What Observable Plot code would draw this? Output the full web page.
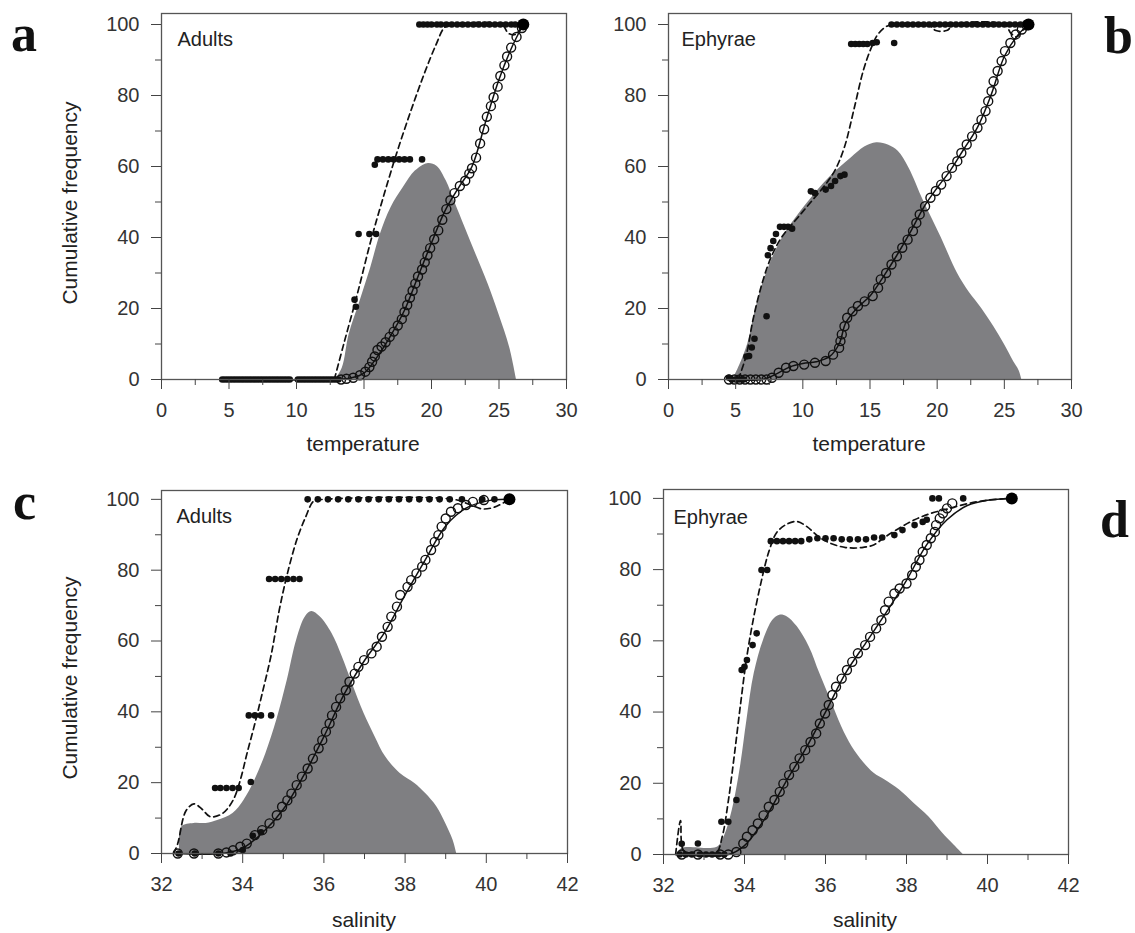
<!DOCTYPE html>
<html>
<head>
<meta charset="utf-8">
<script src="https://cdn.jsdelivr.net/npm/d3@7"></script>
<script src="https://cdn.jsdelivr.net/npm/@observablehq/plot@0.6"></script>
<style>
  html, body { margin: 0; padding: 0; background: #fff; }
  #root { position: relative; width: 1135px; height: 933px; overflow: hidden; background: #fff; }
  .panel { position: absolute; }
  .letter { position: absolute; font-family: "Liberation Serif", "Times New Roman", serif; font-weight: bold; font-size: 52px; line-height: 1; color: #111; }
  .title { position: absolute; font-family: "Liberation Sans", Arial, sans-serif; font-size: 21px; line-height: 1; color: #222; white-space: nowrap; }
</style>
</head>
<body>
<div id="root"></div>
<script>
// ---------- tick values ----------
const yTicks = [0, 20, 40, 60, 80, 100];
const yMinor = [10, 30, 50, 70, 90];
const tempTicks = [0, 5, 10, 15, 20, 25, 30];
const tempMinor = [2.5, 7.5, 12.5, 17.5, 22.5, 27.5];
const salTicks = [32, 34, 36, 38, 40, 42];
const salMinor = [33, 35, 37, 39, 41];

// ---------- panel a: Adults vs temperature ----------
const aDensity = [[12.9,0],[13.4,3.3],[13.9,12.7],[14.7,22],[15.5,31.5],[16.2,40.8],[17.0,48.4],[17.9,54],[18.8,58.7],[19.7,60.8],[20.4,60.1],[21.1,55.9],[21.7,50.2],[22.5,42.7],[23.3,35.2],[24.2,26.8],[25.0,18.3],[25.8,8.9],[26.3,0]];
const aEnv = [[13.3,0],[13.7,0.2],[14.2,0.5],[14.7,1.2],[15.1,2.2],[15.4,3.5],[15.6,5],[15.8,6.5],[16.0,8.3],[16.3,9.3],[16.6,10.5],[16.9,12],[17.2,13.5],[17.5,15.2],[17.8,17],[18.0,19],[18.2,21],[18.4,23],[18.6,25],[18.8,27],[19.0,29],[19.3,31],[19.5,33],[19.7,35],[19.9,37],[20.2,39.5],[20.5,42],[20.8,45],[21.1,48],[21.4,50.5],[21.7,52.5],[22.1,54.5],[22.5,56],[22.8,58],[23.0,59.5],[23.3,62.5],[23.6,66.5],[23.9,70.5],[24.1,74],[24.4,77],[24.6,79.5],[24.9,82.5],[25.1,85.5],[25.4,88.5],[25.6,91],[25.9,93.5],[26.3,96.5],[26.7,99]];
const aFit = [[4.5,0],[13,0],[14,0.4],[15,1.8],[16,6.5],[17,12.5],[18,19.5],[19,29],[20,38.5],[21,47.5],[22,54],[23,60],[24,72.5],[25,84.5],[26,94],[26.8,100]];
const aCatch = [[4.5,0],[4.7,0],[4.9,0],[5.1,0],[5.3,0],[5.5,0],[5.7,0],[5.9,0],[6.1,0],[6.3,0],[6.5,0],[6.7,0],[6.9,0],[7.1,0],[7.3,0],[7.5,0],[7.7,0],[7.9,0],[8.1,0],[8.3,0],[8.5,0],[8.7,0],[8.9,0],[9.1,0],[9.3,0],[9.5,0],[10.1,0],[10.3,0],[10.5,0],[10.7,0],[10.9,0],[11.1,0],[11.3,0],[11.5,0],[11.7,0],[11.9,0],[12.1,0],[12.3,0],[12.5,0],[12.7,0],[12.9,0],[13.1,0],[14.3,22.5],[14.4,20.5],[14.6,41],[15.4,41],[15.9,41],[15.8,60.5],[16.0,62],[16.4,62],[16.8,62],[17.2,62],[17.6,62],[18.0,62],[18.4,62],[19.3,62],[19.1,100],[19.4,100],[19.7,100],[20.0,100],[20.4,100],[20.7,100],[21.1,100],[21.5,100],[21.9,100],[22.3,100],[22.7,100],[23.1,100],[23.5,100],[23.9,100],[24.3,100],[24.7,100],[25.1,100],[25.5,100],[25.9,100],[26.2,100]];
const aEnd = [[26.8,100]];
const aDash = [[12.8,0],[13.5,10],[14.5,24],[15.5,39],[16.4,51],[17.4,63.5],[18.5,76],[19.5,86.5],[20.3,94],[21.0,99.3],[21.6,100],[25.2,100],[25.7,97.5],[26.2,97.2],[26.8,100]];

// ---------- panel b: Ephyrae vs temperature ----------
const bDensity = [[4.8,0],[5.3,4],[5.9,10],[6.5,20],[7.3,30],[8.5,40],[10.4,50],[12.0,57],[13.6,62.4],[14.6,65.5],[15.5,66.7],[16.4,66],[17.1,64.3],[17.9,59.6],[19.0,50.2],[20.3,40],[21.5,30],[22.4,24.5],[23.3,20.1],[24.2,15],[25.0,9.9],[25.7,5],[26.1,2.5],[26.3,0]];
const bEnv = [[4.5,0],[4.9,0],[5.3,0],[5.7,0],[6.1,0],[6.5,0],[6.9,0],[7.3,0],[7.7,0.5],[8.2,1.9],[8.75,3.3],[9.3,3.8],[10.1,4.2],[10.9,4.7],[11.7,5.2],[12.25,7],[12.7,8.9],[12.8,10.8],[12.9,12.7],[13.1,15],[13.3,17.4],[13.7,19.2],[14.1,20.7],[14.6,22],[15.2,23.5],[15.6,25.8],[15.8,28.2],[16.2,30],[16.6,32.4],[17.0,34.7],[17.4,37.1],[17.8,39.4],[18.2,41.8],[18.45,44.1],[18.7,46.5],[19.1,48.8],[19.5,51.2],[19.9,53.1],[20.3,54.9],[20.7,57.3],[21.1,59.6],[21.5,61.5],[21.8,63.8],[22.2,66.2],[22.6,68.5],[23.0,70.9],[23.3,73.2],[23.6,75.6],[23.8,78.4],[24.05,81.2],[24.2,84],[24.5,86.9],[24.8,89.7],[25.05,92.5],[25.45,94.8],[25.85,97.2],[26.3,98.6],[26.65,99.8]];
const bFit = [[4.5,0],[7,0],[8,1.5],[9,3.5],[10,4.5],[11,5],[12,6.5],[12.7,10],[13.2,16],[14,20],[15,23.5],[16,29],[17,35],[18,41.5],[19,48.5],[20,54],[21,59],[22,65],[23,71],[24,80],[25,91],[26,97],[26.8,100]];
const bCatch = [[4.5,0.5],[4.7,0],[5.0,0],[5.3,0],[5.6,0],[5.8,6.5],[6.0,6.6],[6.2,9],[6.4,11.5],[7.3,17.8],[7.4,35],[7.6,37],[7.8,39],[8.0,41],[8.3,43],[8.6,43],[8.9,43],[9.2,42.5],[10.6,53],[10.9,52.5],[11.7,53.5],[12.1,54.5],[12.4,55.9],[12.8,57.3],[13.1,57.7],[13.6,94.5],[13.9,94.5],[14.2,94.5],[14.5,94.5],[14.8,94.5],[15.2,94.8],[15.5,95],[16.8,94.8],[16.6,100],[17.0,100],[17.4,100],[17.8,100],[18.2,100],[18.6,100],[19.0,100],[19.4,100],[19.8,100],[20.2,100],[20.6,100],[21.0,100],[21.4,100],[21.8,100],[22.2,100],[22.6,100],[23.0,100],[23.4,100],[23.8,100],[24.2,100],[24.6,100],[25.0,100],[25.4,100],[25.8,100],[26.2,100]];
const bEnd = [[26.8,100]];
const bDash = [[5.2,0],[5.8,7],[6.3,17],[7.0,27.5],[7.7,35],[8.5,40.5],[9.6,45.5],[10.6,50],[11.6,54.5],[12.4,59],[13.1,65.5],[13.8,76],[14.5,87],[15.1,93.5],[15.6,97.3],[16.3,99.6],[17,100],[19.3,100],[19.9,98.3],[20.7,98.3],[21.3,100],[25.0,100],[25.5,97.5],[25.9,96.5],[26.4,98.5],[26.8,100]];

// ---------- panel c: Adults vs salinity ----------
const cDensity = [[32.45,0],[32.5,7.5],[32.8,8.5],[33.1,8.5],[33.4,9.4],[33.76,11.3],[34.03,15],[34.3,20.7],[34.57,28.2],[34.84,37.7],[35.1,49],[35.33,60.3],[35.55,66.9],[35.7,68.3],[35.9,66.9],[36.2,62.1],[36.45,55.6],[36.7,48],[36.99,39.5],[37.26,33],[37.52,27.3],[37.88,22.6],[38.24,19.8],[38.5,17],[38.78,13.2],[39.0,8.5],[39.18,3.8],[39.27,0]];
const cEnv = [[32.4,0],[32.8,0],[33.4,0],[33.6,0.3],[33.76,0.9],[33.94,1.9],[34.1,2.8],[34.3,5.2],[34.48,6.6],[34.66,8.5],[34.84,10.8],[34.97,13.2],[35.1,15],[35.2,16.9],[35.33,19.3],[35.46,21.7],[35.6,24],[35.73,26.8],[35.87,29.7],[35.96,32],[36.05,34.4],[36.14,36.7],[36.2,39],[36.3,41.4],[36.4,43.8],[36.54,46.1],[36.63,48.5],[36.76,50.8],[36.85,52.7],[36.99,54.6],[37.17,56.5],[37.3,58.4],[37.43,61.2],[37.57,64],[37.66,66.9],[37.8,69.7],[37.88,73],[38.06,75.3],[38.15,77.2],[38.28,79.1],[38.42,81],[38.5,82.9],[38.64,85.7],[38.73,88],[38.82,89.9],[38.9,92.3],[39.0,94.6],[39.13,96.5],[39.3,97.5],[39.5,98.4],[39.67,99.3],[39.94,99.8]];
const cFit = [[32.3,0],[33.5,0],[34,1.5],[34.5,6],[35,12.5],[35.5,22],[36,33],[36.5,45],[37,54.5],[37.5,62.5],[38,73],[38.5,83],[39,92.5],[39.5,97.5],[40,99.5],[40.5,100]];
const cCatch = [[32.42,0],[32.82,0],[33.4,0],[33.7,0],[34.0,1],[34.25,5],[34.45,6],[33.32,18.5],[33.45,18.5],[33.6,18.5],[33.75,18.5],[33.9,18.5],[34.2,20.2],[34.15,39],[34.3,39],[34.45,39],[34.7,39],[34.65,77.5],[34.8,77.5],[34.95,77.5],[35.1,77.5],[35.25,77.5],[35.4,77.5],[35.6,100],[35.85,100],[36.1,100],[36.35,100],[36.6,100],[36.85,100],[37.1,100],[37.35,100],[37.6,100],[37.85,100],[38.1,100],[38.35,100],[38.6,100],[38.85,100],[39.1,100],[39.4,100],[39.9,100],[40.2,100]];
const cEnd = [[40.57,100]];
const cDash = [[32.3,0],[32.4,2.8],[32.6,12],[32.8,14],[33.0,12.5],[33.2,10.4],[33.5,11.3],[33.76,15],[33.94,20.7],[34.1,28],[34.3,36.7],[34.48,45.2],[34.7,56],[34.9,68.7],[35.1,79],[35.33,88.5],[35.55,95],[35.75,99.5],[36.0,100],[39.2,100],[39.6,98.5],[39.9,97.3],[40.2,97.8],[40.57,100]];

// ---------- panel d: Ephyrae vs salinity ----------
const dDensity = [[32.36,0],[32.45,1.7],[33.17,1.7],[33.35,2.2],[33.5,5],[33.7,12.5],[33.9,24.6],[34.06,37.7],[34.24,50.8],[34.47,60.2],[34.7,65.8],[34.87,67.2],[35.05,66.8],[35.3,64],[35.6,58.3],[35.86,50.8],[36.13,43.4],[36.4,35.9],[36.66,30.2],[36.93,26],[37.2,22.8],[37.47,20.9],[37.83,18.1],[38.19,14.3],[38.55,10.6],[38.9,5.9],[39.3,1.2],[39.4,0]];
const dEnv = [[32.45,0],[32.85,0],[33.4,0],[33.6,0],[33.8,0.7],[33.97,3.1],[34.06,5],[34.2,6.8],[34.33,8.7],[34.47,11],[34.6,13.4],[34.74,15.3],[34.87,17.6],[34.96,19.9],[35.1,22.3],[35.23,24.6],[35.36,27],[35.5,29.3],[35.63,31.6],[35.77,34],[35.86,36.8],[35.99,39.6],[36.08,42],[36.17,44.8],[36.26,47.1],[36.4,49.4],[36.53,51.8],[36.66,54.1],[36.8,56.5],[36.98,58.8],[37.1,61.1],[37.25,63.5],[37.38,65.8],[37.47,68.6],[37.56,71],[37.7,73.3],[37.83,74.7],[38.0,76.1],[38.14,78.5],[38.23,80.8],[38.32,82.7],[38.4,85],[38.5,86.9],[38.6,88.8],[38.7,90.6],[38.73,92.5],[38.82,94.4],[38.9,95.8],[39.0,97.2],[39.13,98.6]];
const dFit = [[32.3,0],[33.6,0],[34,2.5],[34.5,10],[35,20],[35.5,29.5],[36,40],[36.5,51],[37,59.5],[37.5,68],[38,77],[38.5,87],[39,94],[39.5,98],[40,99.5],[40.6,100]];
const dCatch = [[32.4,0],[32.55,0],[32.7,0],[32.9,0],[33.05,0],[33.2,0],[33.35,0],[33.5,0],[32.45,3],[32.85,3.1],[33.43,9.2],[33.6,9.2],[33.8,15.3],[33.93,51.8],[34.0,52.7],[34.06,54.6],[34.2,58.8],[34.3,62.1],[34.42,79.9],[34.56,79.9],[34.65,88],[34.8,88],[34.95,88],[35.1,88],[35.25,88],[35.4,88],[35.6,88.5],[35.8,88.8],[36.0,88.8],[36.2,88.8],[36.4,88.5],[36.6,88.5],[36.8,88.5],[37.0,88.5],[37.2,89],[37.4,89],[37.7,89.7],[37.9,91.1],[38.2,92.5],[38.4,93.4],[38.5,94],[38.64,100],[38.8,100],[39.4,100]];
const dEnd = [[40.6,100]];
const dDash = [[32.3,0],[32.42,9.5],[32.5,1],[32.8,0.5],[33.3,0.5],[33.45,5],[33.6,15],[33.75,28],[33.9,42],[34.05,55],[34.2,65],[34.4,76],[34.6,85],[34.8,90.5],[35.05,92.8],[35.3,93.5],[35.55,92],[35.8,89.5],[36.1,87.5],[36.5,86.2],[36.9,86.2],[37.2,87],[37.45,89],[37.8,91.5],[38.2,94],[38.6,95.8],[39.0,97],[39.5,98.5],[40.0,99.5],[40.6,100]];

// ---------- drawing ----------
const X = d => d[0], Y = d => d[1];
const root = document.getElementById("root");

function panel(o) {
  const svg = Plot.plot({
    width: o.w, height: o.h,
    marginLeft: o.mL, marginRight: o.mR, marginTop: o.mT, marginBottom: o.mB,
    x: {domain: o.xDomain, label: null},
    y: {domain: [0, o.yTop], label: null},
    style: {background: "transparent", fontFamily: "'Liberation Sans', Arial, sans-serif", fontSize: "20px", color: "#333", overflow: "visible"},
    marks: [
      Plot.areaY(o.density, {x: X, y: Y, fill: "#7f7f82", curve: "catmull-rom"}),
      Plot.line(o.fit, {x: X, y: Y, stroke: "#111", strokeWidth: 1.5, curve: "catmull-rom"}),
      Plot.line(o.dash, {x: X, y: Y, stroke: "#111", strokeWidth: 1.7, strokeDasharray: "6,4", curve: "catmull-rom"}),
      Plot.dot(o.env, {x: X, y: Y, r: 4.5, stroke: "#111", strokeWidth: 1.4, fill: "none"}),
      Plot.dot(o.catchDots, {x: X, y: Y, r: 3.3, fill: "#111", stroke: "none"}),
      Plot.dot(o.end, {x: X, y: Y, r: 6, fill: "#000", stroke: "none"}),
      Plot.frame({stroke: "#555", strokeWidth: 1.3}),
      Plot.axisY(yTicks, {tickSize: 10, tickPadding: 12, stroke: "#444", fill: "#333", fontSize: 20}),
      Plot.axisY(yMinor, {tickSize: 6, tickFormat: () => "", stroke: "#444"}),
      Plot.axisX(o.xTicks, {tickSize: 10, tickPadding: 13, stroke: "#444", fill: "#333", fontSize: 20}),
      Plot.axisX(o.xMinor, {tickSize: 6, tickFormat: () => "", stroke: "#444"}),
      Plot.text([o.label], {frameAnchor: "top-left", dx: o.ldx, dy: o.ldy, fontSize: 20, textAnchor: "start", fill: "#222"})
    ]
  });
  svg.classList.add("panel");
  svg.style.left = o.left + "px";
  svg.style.top = o.top + "px";
  root.appendChild(svg);
}

panel({left: 0, top: 0, w: 575, h: 460, mL: 161, mR: 9, mT: 13, mB: 81, yTop: 103.1,
  xDomain: [0, 30], xTicks: tempTicks, xMinor: tempMinor,
  density: aDensity, env: aEnv, fit: aFit, catchDots: aCatch, end: aEnd, dash: aDash,
  label: "Adults", ldx: 16, ldy: 18});
panel({left: 570, top: 0, w: 565, h: 460, mL: 98, mR: 64, mT: 13, mB: 81, yTop: 103.1,
  xDomain: [0, 30], xTicks: tempTicks, xMinor: tempMinor,
  density: bDensity, env: bEnv, fit: bFit, catchDots: bCatch, end: bEnd, dash: bDash,
  label: "Ephyrae", ldx: 13, ldy: 18});
panel({left: 0, top: 460, w: 575, h: 473, mL: 161, mR: 8, mT: 30, mB: 80, yTop: 102.5,
  xDomain: [32, 42], xTicks: salTicks, xMinor: salMinor,
  density: cDensity, env: cEnv, fit: cFit, catchDots: cCatch, end: cEnd, dash: cDash,
  label: "Adults", ldx: 15, ldy: 18});
panel({left: 570, top: 460, w: 565, h: 473, mL: 93, mR: 67, mT: 29, mB: 79, yTop: 102.5,
  xDomain: [32, 42], xTicks: salTicks, xMinor: salMinor,
  density: dDensity, env: dEnv, fit: dFit, catchDots: dCatch, end: dEnd, dash: dDash,
  label: "Ephyrae", ldx: 10, ldy: 20});

// ---------- titles and panel letters ----------
function addText(cls, text, left, top, extra) {
  const el = document.createElement("div");
  el.className = cls;
  el.textContent = text;
  el.style.left = left + "px";
  el.style.top = top + "px";
  if (extra) Object.assign(el.style, extra);
  root.appendChild(el);
  return el;
}
addText("letter", "a", 11, 8);
addText("letter", "b", 1104, 10);
addText("letter", "c", 13, 476);
addText("letter", "d", 1100, 494);

function yTitle(cx, cy) {
  addText("title", "Cumulative frequency", cx, cy, {transform: "translate(-50%,-50%) rotate(-90deg)"});
}
yTitle(69, 203);
yTitle(69, 678);
function xTitle(text, cx, cy) {
  addText("title", text, cx, cy, {transform: "translate(-50%,-50%)"});
}
xTitle("temperature", 363, 443);
xTitle("temperature", 869, 443);
xTitle("salinity", 364, 919);
xTitle("salinity", 865, 919);
</script>
</body>
</html>
